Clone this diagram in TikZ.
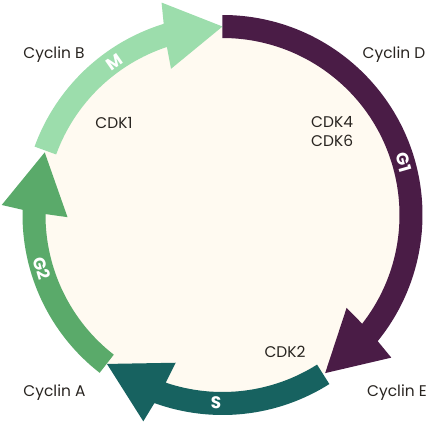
\documentclass[tikz,border=0pt]{standalone}
\usepackage{fontspec}
\setmainfont{Poppins}
\usepackage{xcolor}
\usepackage{tikz}

\definecolor{phaseGone}{RGB}{74,28,70}
\definecolor{phaseS}{RGB}{23,98,96}
\definecolor{phaseGtwo}{RGB}{90,170,106}
\definecolor{phaseM}{RGB}{156,221,172}
\definecolor{cellfill}{RGB}{255,250,241}
\definecolor{labeltext}{RGB}{40,36,32}

\begin{document}
\begin{tikzpicture}[x=1bp, y=1bp, font=\fontsize{15.5}{19}\selectfont]
		\tikzstyle{cyclin} = [text=labeltext, anchor=base, inner sep=0pt]
		\tikzstyle{phase} = [text=white, font=\fontsize{17}{19}\selectfont\bfseries, inner sep=0pt]

		\useasboundingbox (-222.5,-209) rectangle (205.5,215);

		% cell
		\fill[cellfill] (0,0) circle[radius=188bp];

		% phase arrows
		\fill[phaseS] (-57.7:200bp) arc[start angle=-57.7, end angle=-109.9, radius=200bp] -- (-111:221bp) -- (-127.8:188.5bp) -- (-107.6:155bp) -- (-108.7:177bp) arc[start angle=-108.7, end angle=-57.7, radius=177bp] -- cycle;
		\fill[phaseGtwo] (232.1:200bp) arc[start angle=232.1, end angle=178.5, radius=200bp] -- (177.4:221bp) -- (160.6:188.5bp) -- (180.8:155bp) -- (179.7:177bp) arc[start angle=179.7, end angle=232.1, radius=177bp] -- cycle;
		\fill[phaseM] (160:200bp) arc[start angle=160, end angle=107.1, radius=200bp] -- (106:221bp) -- (90:188.5bp) -- (109.4:155bp) -- (108.3:177bp) arc[start angle=108.3, end angle=160, radius=177bp] -- cycle;
		\fill[phaseGone] (90:200bp) arc[start angle=90, end angle=-39.1, radius=200bp] -- (-40.2:221bp) -- (-57:188.5bp) -- (-36.8:155bp) -- (-37.9:177bp) arc[start angle=-37.9, end angle=90, radius=177bp] -- cycle;

		% phase names
		\node[phase, rotate=35]		at (125.3:187bp)	(m)		{M};
		\node[phase, rotate=-74]	at (16.2:189bp)		(g1)	{G1};
		\node[phase, rotate=-2]		at (-92:188bp)		(s)		{S};
		\node[phase, rotate=-73.6]	at (196.4:188bp)	(g2)	{G2};

		% cyclins and CDKs
		\node[cyclin]	at (-168.5,156.5)	(cycB)	{Cyclin B};
		\node[cyclin]	at (171.5,156.5)	(cycD)	{Cyclin D};
		\node[cyclin]	at (-168,-181.5)	(cycA)	{Cyclin A};
		\node[cyclin]	at (174.5,-181.5)	(cycE)	{Cyclin E};
		\node[cyclin]	at (-108.5,87)		(cdk1)	{CDK1};
		\node[cyclin, align=left, anchor=base west]	at (88.5,68.3)	(cdk46)	{CDK4\\CDK6};
		\node[cyclin]	at (62.5,-142.7)	(cdk2)	{CDK2};
\end{tikzpicture}
\end{document}
